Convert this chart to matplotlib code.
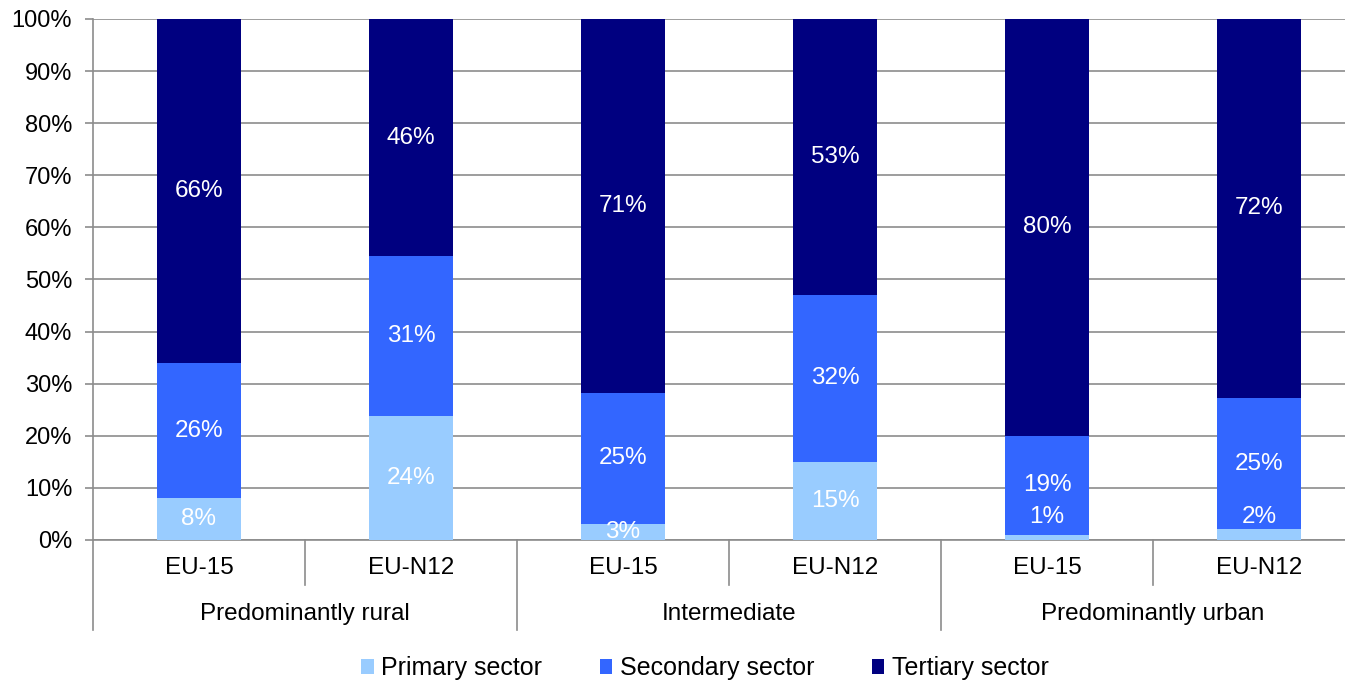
import numpy as np
import matplotlib
matplotlib.use("Agg")
import matplotlib.pyplot as plt
from matplotlib.patches import Patch
import matplotlib.transforms as mtransforms

plt.rcParams['font.family'] = ['Liberation Sans', 'DejaVu Sans']

# data
groups = ["Predominantly rural", "Intermediate", "Predominantly urban"]
subgroups = ["EU-15", "EU-N12"]
series = ["Primary sector", "Secondary sector", "Tertiary sector"]
primary = [8, 24, 3, 15, 1, 2]
secondary = [26, 31, 25, 32, 19, 25]
tertiary = [66, 46, 71, 53, 80, 72]
colors = ["#99CCFF", "#3366FF", "#000080"]


def main():
    vals = np.array([primary, secondary, tertiary], dtype=float)
    shares = vals / vals.sum(axis=0) * 100.0  # 100% stacked
    n = vals.shape[1]
    x = np.arange(n)

    fig = plt.figure(figsize=(13.45, 6.8), dpi=100)
    ax = fig.add_axes([93 / 1345, 140 / 680, 1272 / 1345, 521 / 680])

    bottom = np.zeros(n)
    for k in range(3):
        ax.bar(x, shares[k], 0.4, bottom=bottom, color=colors[k],
               edgecolor='none', zorder=3, label=series[k])
        for i in range(n):
            yc = bottom[i] + shares[k][i] / 2
            if vals[k][i] <= 2:
                yc = 4.4  # tiny slices: label moved up
            ax.text(x[i], yc, "%d%%" % vals[k][i], ha='center', va='center',
                    color='white', fontsize=17.5, zorder=4)
        bottom += shares[k]

    ax.set_xlim(-0.5, n - 0.5)
    ax.set_ylim(0, 100)
    ax.set_yticks(np.arange(0, 101, 10))
    ax.set_yticklabels(["%d%%" % v for v in range(0, 101, 10)], fontsize=17)
    ax.yaxis.grid(True, color='#8c8c8c', linewidth=1.2, zorder=0)
    ax.tick_params(axis='y', length=6, width=1.2, color='#8c8c8c', pad=9)
    ax.set_xticks([])
    for s in ['top', 'right']:
        ax.spines[s].set_visible(False)
    for s in ['left', 'bottom']:
        ax.spines[s].set_color('#8c8c8c')
        ax.spines[s].set_linewidth(1.2)

    # two-level category axis
    trans = mtransforms.blended_transform_factory(ax.transData, ax.transAxes)
    for i in range(n):
        ax.text(x[i], -0.054, subgroups[i % 2], ha='center', va='center',
                fontsize=17.5, transform=trans)
    for g in range(len(groups)):
        ax.text(2 * g + 0.5, -0.142, groups[g], ha='center', va='center',
                fontsize=17.5, transform=trans)
    for i in range(n):
        xs = i - 0.5
        ylow = -0.173 if i % 2 == 0 else -0.086
        ax.plot([xs, xs], [0, ylow], color='#8c8c8c', linewidth=1.2,
                transform=trans, clip_on=False)

    handles = [Patch(facecolor=c, edgecolor='none') for c in colors]
    fig.legend(handles, series, loc='center', bbox_to_anchor=(0.524, 0.017),
               ncol=3, frameon=False, handlelength=0.5, handleheight=0.5,
               handletextpad=0.3, columnspacing=2.3,
               prop={'size': 18})

    fig.savefig("out.png", dpi=100)


if __name__ == "__main__":
    main()
